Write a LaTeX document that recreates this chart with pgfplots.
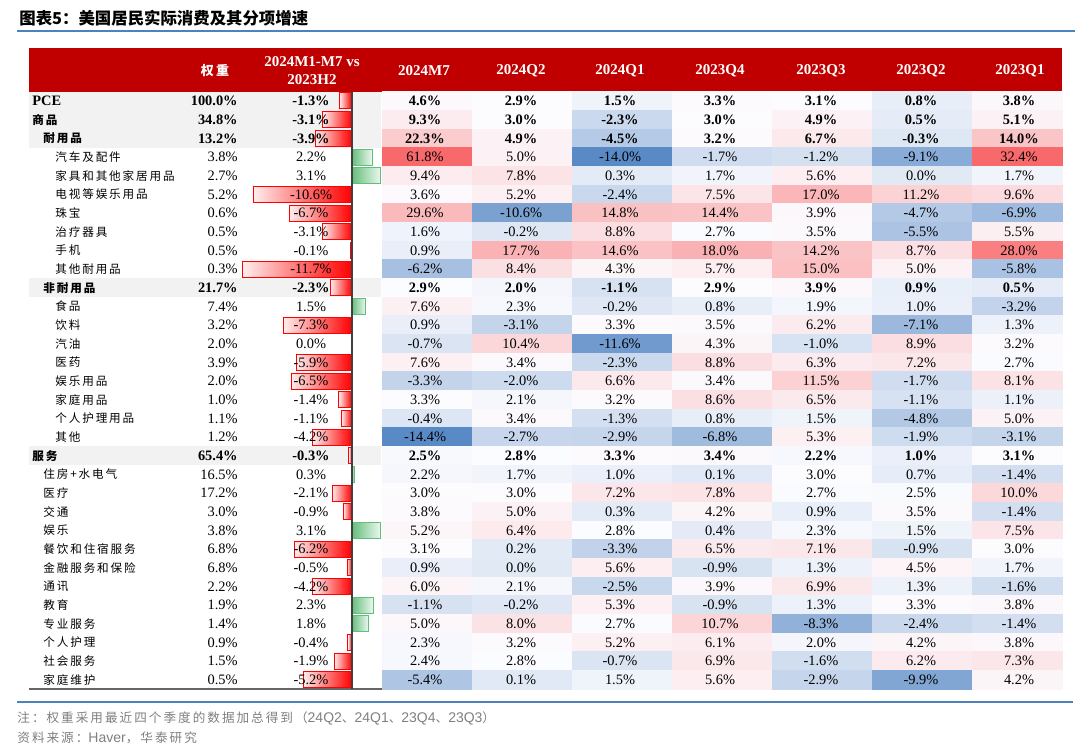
\documentclass[border=0pt]{standalone}
\usepackage{pgfplots}
\pgfplotsset{compat=1.18}
\usepackage{pgfplotstable}
\usepackage{fontspec}
\setmainfont{Liberation Serif}
\newfontfamily\cjk{Noto Sans CJK SC}[LetterSpace=16]
\newfontfamily\cjkt{Noto Sans CJK SC}
\newfontfamily\sans{Liberation Sans}
\definecolor{headred}{RGB}{192,0,0}
\definecolor{stripe}{RGB}{242,242,242}
\definecolor{tblue}{RGB}{79,129,189}
\definecolor{barred}{RGB}{255,0,0}
\definecolor{bargreen}{RGB}{99,190,123}
\definecolor{foot}{RGB}{128,128,128}
\newcommand\numfont{\fontsize{7.2}{8}\selectfont}
\newcommand\labfont{\fontsize{5.8}{7}\selectfont}
\newcommand\Y[1]{101+18.67*#1}
\newcommand\lab[3]{\node[anchor=west,inner sep=0pt,font=\labfont\cjk,text=black] at (axis cs:#1,{101+18.67*#2}) {#3};}
\newcommand\mseven[1]{ifthenelse(\thisrow{#1}<2.95,(\thisrow{#1}+14.4)/17.35,1+(\thisrow{#1}-2.95)/58.85)}
\newcommand\qmeta[1]{ifthenelse(\thisrow{#1}<2.85,(\thisrow{#1}+14)/16.85,1+(\thisrow{#1}-2.85)/29.55)}

% r = row, w = weight, d = 2024M1-M7 vs 2023H2, then 2024M7, 2024Q2, 2024Q1, 2023Q4, 2023Q3, 2023Q2, 2023Q1, bf = bold row
\pgfplotstableread{
r w d m7 q2 q1 p4 p3 p2 p1 bf
0 100.0 -1.3 4.6 2.9 1.5 3.3 3.1 0.8 3.8 1
1 34.8 -3.1 9.3 3.0 -2.3 3.0 4.9 0.5 5.1 1
2 13.2 -3.9 22.3 4.9 -4.5 3.2 6.7 -0.3 14.0 1
3 3.8 2.2 61.8 5.0 -14.0 -1.7 -1.2 -9.1 32.4 0
4 2.7 3.1 9.4 7.8 0.3 1.7 5.6 0.0 1.7 0
5 5.2 -10.6 3.6 5.2 -2.4 7.5 17.0 11.2 9.6 0
6 0.6 -6.7 29.6 -10.6 14.8 14.4 3.9 -4.7 -6.9 0
7 0.5 -3.1 1.6 -0.2 8.8 2.7 3.5 -5.5 5.5 0
8 0.5 -0.1 0.9 17.7 14.6 18.0 14.2 8.7 28.0 0
9 0.3 -11.7 -6.2 8.4 4.3 5.7 15.0 5.0 -5.8 0
10 21.7 -2.3 2.9 2.0 -1.1 2.9 3.9 0.9 0.5 1
11 7.4 1.5 7.6 2.3 -0.2 0.8 1.9 1.0 -3.2 0
12 3.2 -7.3 0.9 -3.1 3.3 3.5 6.2 -7.1 1.3 0
13 2.0 0.0 -0.7 10.4 -11.6 4.3 -1.0 8.9 3.2 0
14 3.9 -5.9 7.6 3.4 -2.3 8.8 6.3 7.2 2.7 0
15 2.0 -6.5 -3.3 -2.0 6.6 3.4 11.5 -1.7 8.1 0
16 1.0 -1.4 3.3 2.1 3.2 8.6 6.5 -1.1 1.1 0
17 1.1 -1.1 -0.4 3.4 -1.3 0.8 1.5 -4.8 5.0 0
18 1.2 -4.2 -14.4 -2.7 -2.9 -6.8 5.3 -1.9 -3.1 0
19 65.4 -0.3 2.5 2.8 3.3 3.4 2.2 1.0 3.1 1
20 16.5 0.3 2.2 1.7 1.0 0.1 3.0 0.7 -1.4 0
21 17.2 -2.1 3.0 3.0 7.2 7.8 2.7 2.5 10.0 0
22 3.0 -0.9 3.8 5.0 0.3 4.2 0.9 3.5 -1.4 0
23 3.8 3.1 5.2 6.4 2.8 0.4 2.3 1.5 7.5 0
24 6.8 -6.2 3.1 0.2 -3.3 6.5 7.1 -0.9 3.0 0
25 6.8 -0.5 0.9 0.0 5.6 -0.9 1.3 4.5 1.7 0
26 2.2 -4.2 6.0 2.1 -2.5 3.9 6.9 1.3 -1.6 0
27 1.9 2.3 -1.1 -0.2 5.3 -0.9 1.3 3.3 3.8 0
28 1.4 1.8 5.0 8.0 2.7 10.7 -8.3 -2.4 -1.4 0
29 0.9 -0.4 2.3 3.2 5.2 6.1 2.0 4.2 3.8 0
30 1.5 -1.9 2.4 2.8 -0.7 6.9 -1.6 6.2 7.3 0
31 0.5 -5.2 -5.4 0.1 1.5 5.6 -2.9 -9.9 4.2 0
}\data

\pgfplotsset{
  cell/.style={
    scatter, only marks, mark=square*, mark size=4.667pt, point meta=explicit,
    scatter/use mapped color={draw=mapped color, fill=mapped color},
    mark options={xscale=#1},
  },
  txtn/.style={only marks, mark=none, point meta=explicit symbolic,
    restrict expr to domain={\thisrow{bf}}{-0.5:0.5},
    nodes near coords={\pgfplotspointmeta\%},
    every node near coord/.append style={anchor=#1, text=black, font=\numfont, inner sep=0pt}},
  txtb/.style={only marks, mark=none, point meta=explicit symbolic,
    restrict expr to domain={\thisrow{bf}}{0.5:1.5},
    nodes near coords={\pgfplotspointmeta\%},
    every node near coord/.append style={anchor=#1, text=black, font=\numfont\bfseries, inner sep=0pt}},
  base/.style={at={(0,0)}, anchor=south west, scale only axis, width=540pt, height=374.5pt,
    ymin=0, ymax=749, y dir=reverse, hide axis, clip=false},
}

\begin{document}
\begin{tikzpicture}
% ---------- axis 1: frame, header, labels, footer
\begin{axis}[base, xmin=0, xmax=1080]
\fill[white] (axis cs:0,0) rectangle (axis cs:1080,749);
\node[anchor=west, inner sep=0pt, font=\fontsize{8.2}{10}\selectfont\cjkt\bfseries] at (axis cs:19,18) {图表5：美国居民实际消费及其分项增速};
\draw[tblue, line width=1pt] (axis cs:17,31.5) -- (axis cs:1075,31.5);
\fill[headred] (axis cs:29,48) rectangle (axis cs:1062,91.7);
\node[text=white, font=\fontsize{6.5}{8}\selectfont\cjk\bfseries] at (axis cs:215,71) {权重};
\node[text=white, font=\fontsize{7.5}{9}\selectfont\bfseries] at (axis cs:312,62) {2024M1-M7 vs};
\node[text=white, font=\fontsize{7.5}{9}\selectfont\bfseries] at (axis cs:312,80) {2023H2};
\node[text=white, font=\fontsize{7.5}{9}\selectfont\bfseries] at (axis cs:424,71) {2024M7};
\node[text=white, font=\fontsize{7.5}{9}\selectfont\bfseries] at (axis cs:521,71) {2024Q2};
\node[text=white, font=\fontsize{7.5}{9}\selectfont\bfseries] at (axis cs:620,71) {2024Q1};
\node[text=white, font=\fontsize{7.5}{9}\selectfont\bfseries] at (axis cs:720,71) {2023Q4};
\node[text=white, font=\fontsize{7.5}{9}\selectfont\bfseries] at (axis cs:821,71) {2023Q3};
\node[text=white, font=\fontsize{7.5}{9}\selectfont\bfseries] at (axis cs:921,71) {2023Q2};
\node[text=white, font=\fontsize{7.5}{9}\selectfont\bfseries] at (axis cs:1020,71) {2023Q1};
\fill[stripe] (axis cs:29,91.7) rectangle (axis cs:381,147.7);
\fill[stripe] (axis cs:29,{101+18.67*10-9.33}) rectangle (axis cs:381,{101+18.67*10+9.33});
\fill[stripe] (axis cs:29,{101+18.67*19-9.33}) rectangle (axis cs:381,{101+18.67*19+9.33});
\node[anchor=west,inner sep=0pt,font=\fontsize{7.2}{8}\selectfont\bfseries] at (axis cs:32,101) {PCE};
\lab{32}{1}{\bfseries 商品}
\lab{43}{2}{\bfseries 耐用品}
\lab{55}{3}{汽车及配件}
\lab{55}{4}{家具和其他家居用品}
\lab{55}{5}{电视等娱乐用品}
\lab{55}{6}{珠宝}
\lab{55}{7}{治疗器具}
\lab{55}{8}{手机}
\lab{55}{9}{其他耐用品}
\lab{43}{10}{\bfseries 非耐用品}
\lab{55}{11}{食品}
\lab{55}{12}{饮料}
\lab{55}{13}{汽油}
\lab{55}{14}{医药}
\lab{55}{15}{娱乐用品}
\lab{55}{16}{家庭用品}
\lab{55}{17}{个人护理用品}
\lab{55}{18}{其他}
\lab{32}{19}{\bfseries 服务}
\lab{43}{20}{住房+水电气}
\lab{43}{21}{医疗}
\lab{43}{22}{交通}
\lab{43}{23}{娱乐}
\lab{43}{24}{餐饮和住宿服务}
\lab{43}{25}{金融服务和保险}
\lab{43}{26}{通讯}
\lab{43}{27}{教育}
\lab{43}{28}{专业服务}
\lab{43}{29}{个人护理}
\lab{43}{30}{社会服务}
\lab{43}{31}{家庭维护}
\draw[black!60, line width=0.9pt] (axis cs:29,689) -- (axis cs:1062,689);
\draw[tblue, line width=1pt] (axis cs:17,702) -- (axis cs:1073,702);
\node[anchor=west, inner sep=0pt, text=foot, font=\fontsize{6.3}{7}\selectfont] at (axis cs:17,718)
  {{\cjk 注：权重采用最近四个季度的数据加总得到（}{\sans\fontsize{7}{8}\selectfont 24Q2}{\cjk 、}{\sans\fontsize{7}{8}\selectfont 24Q1}{\cjk 、}{\sans\fontsize{7}{8}\selectfont 23Q4}{\cjk 、}{\sans\fontsize{7}{8}\selectfont 23Q3}{\cjk ）}};
\node[anchor=west, inner sep=0pt, text=foot, font=\fontsize{6.3}{7}\selectfont] at (axis cs:17,738)
  {{\cjk 资料来源：}{\sans\fontsize{7}{8}\selectfont Haver}{\cjk ，华泰研究}};
\end{axis}

% ---------- axis 2: heat map cells
\begin{axis}[base, xmin=0, xmax=1080,
  colormap={heatcm}{rgb255(0cm)=(90,138,198); rgb255(1cm)=(252,252,255); rgb255(2cm)=(248,105,107)},
  point meta min=0, point meta max=2]
\addplot[cell=4.821] table[x expr=427, y expr=\Y{\thisrow{r}}, meta expr=\mseven{m7}]{\data};
\addplot[cell=5.357] table[x expr=522, y expr=\Y{\thisrow{r}}, meta expr=\qmeta{q2}]{\data};
\addplot[cell=5.357] table[x expr=622, y expr=\Y{\thisrow{r}}, meta expr=\qmeta{q1}]{\data};
\addplot[cell=5.357] table[x expr=722, y expr=\Y{\thisrow{r}}, meta expr=\qmeta{p4}]{\data};
\addplot[cell=5.357] table[x expr=822, y expr=\Y{\thisrow{r}}, meta expr=\qmeta{p3}]{\data};
\addplot[cell=5.357] table[x expr=922, y expr=\Y{\thisrow{r}}, meta expr=\qmeta{p2}]{\data};
\addplot[cell=4.821] table[x expr=1017, y expr=\Y{\thisrow{r}}, meta expr=\qmeta{p1}]{\data};
\end{axis}

% ---------- axis 3: numbers of the table
\begin{axis}[base, xmin=0, xmax=1080]
\addplot[txtn=east] table[x expr=238, y expr=\Y{\thisrow{r}}, meta=w]{\data};
\addplot[txtb=east] table[x expr=238, y expr=\Y{\thisrow{r}}, meta=w]{\data};
\addplot[txtn=center] table[x expr=425, y expr=\Y{\thisrow{r}}, meta=m7]{\data};
\addplot[txtb=center] table[x expr=425, y expr=\Y{\thisrow{r}}, meta=m7]{\data};
\addplot[txtn=center] table[x expr=521, y expr=\Y{\thisrow{r}}, meta=q2]{\data};
\addplot[txtb=center] table[x expr=521, y expr=\Y{\thisrow{r}}, meta=q2]{\data};
\addplot[txtn=center] table[x expr=620, y expr=\Y{\thisrow{r}}, meta=q1]{\data};
\addplot[txtb=center] table[x expr=620, y expr=\Y{\thisrow{r}}, meta=q1]{\data};
\addplot[txtn=center] table[x expr=720, y expr=\Y{\thisrow{r}}, meta=p4]{\data};
\addplot[txtb=center] table[x expr=720, y expr=\Y{\thisrow{r}}, meta=p4]{\data};
\addplot[txtn=center] table[x expr=821, y expr=\Y{\thisrow{r}}, meta=p3]{\data};
\addplot[txtb=center] table[x expr=821, y expr=\Y{\thisrow{r}}, meta=p3]{\data};
\addplot[txtn=center] table[x expr=921, y expr=\Y{\thisrow{r}}, meta=p2]{\data};
\addplot[txtb=center] table[x expr=921, y expr=\Y{\thisrow{r}}, meta=p2]{\data};
\addplot[txtn=center] table[x expr=1019, y expr=\Y{\thisrow{r}}, meta=p1]{\data};
\addplot[txtb=center] table[x expr=1019, y expr=\Y{\thisrow{r}}, meta=p1]{\data};
\end{axis}

% ---------- axis 4: data bars, x in percent, 9.3 px per percent, zero at x = 351.7 px
\begin{axis}[base, xmin=-37.8172, xmax=78.3118]
\pgfplotsinvokeforeach{0,...,31}{
\addplot[xbar, bar width=8pt, draw=barred, line width=0.5pt, left color=barred!7, right color=barred,
  restrict x to domain=-50:-0.05, restrict expr to domain={\thisrow{r}}{#1:#1}]
  table[x=d, y expr=\Y{\thisrow{r}}]{\data};
\addplot[xbar, bar width=8pt, draw=bargreen, line width=0.5pt, left color=bargreen, right color=bargreen!12,
  restrict x to domain=0.05:50, restrict expr to domain={\thisrow{r}}{#1:#1}]
  table[x=d, y expr=\Y{\thisrow{r}}]{\data};
}
\draw[black!75, line width=0.8pt] (axis cs:0,91.7) -- (axis cs:0,689);
\addplot[txtn=center] table[x expr=-4.376, y expr=\Y{\thisrow{r}}, meta=d]{\data};
\addplot[txtb=center] table[x expr=-4.376, y expr=\Y{\thisrow{r}}, meta=d]{\data};
\end{axis}
\end{tikzpicture}
\end{document}
